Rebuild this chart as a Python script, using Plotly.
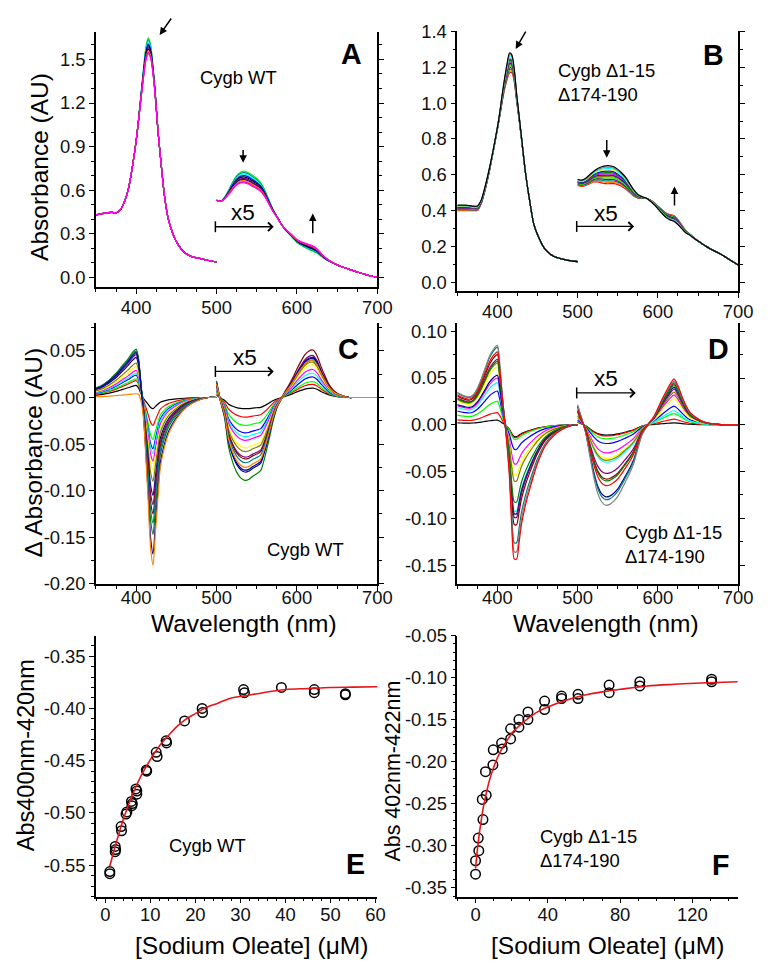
import plotly.graph_objects as go

# ---------------- DATA ----------------
WL_S = [350, 355, 360, 365, 370, 375, 380, 385, 390, 395, 400, 403, 406, 409, 412,
        415, 418, 421, 424, 427, 430, 435, 440, 445, 450, 460, 470, 480, 490, 500]
WL_V = [500, 505, 510, 515, 520, 525, 530, 535, 540, 545, 550, 555, 560, 565, 570,
        575, 580, 585, 590, 595, 600, 605, 610, 615, 620, 625, 630, 635, 640, 645,
        650, 655, 660, 665, 670, 675, 680, 685, 690, 695, 700]

# Panel A: first spectrum and total change (last - first)
A_base_S = [0.430, 0.435, 0.440, 0.445, 0.447, 0.443, 0.462, 0.515, 0.600, 0.750, 0.940, 1.090, 1.260, 1.430, 1.580,
            1.650, 1.600, 1.450, 1.250, 1.020, 0.840, 0.570, 0.400, 0.310, 0.245, 0.170, 0.140, 0.128, 0.115, 0.105]
A_delta_S = [0, 0, 0, 0, 0, 0, 0, 0, 0, 0, 0, -0.01, -0.03, -0.06, -0.09,
             -0.11, -0.09, -0.05, -0.02, -0.005, 0, 0, 0, 0, 0, 0, 0, 0, 0, 0]
A_base_V = [0.530, 0.522, 0.550, 0.600, 0.655, 0.700, 0.725, 0.730, 0.720, 0.700, 0.680, 0.650, 0.600, 0.535, 0.470,
            0.420, 0.370, 0.330, 0.300, 0.270, 0.240, 0.220, 0.205, 0.190, 0.180, 0.165, 0.145, 0.125, 0.110, 0.097,
            0.085, 0.074, 0.064, 0.054, 0.045, 0.036, 0.027, 0.019, 0.011, 0.005, 0.000]
A_delta_V = [0, 0, -0.01, -0.03, -0.05, -0.065, -0.075, -0.08, -0.08, -0.075, -0.07, -0.06, -0.045, -0.03, -0.015,
             -0.005, 0, 0.005, 0.01, 0.015, 0.02, 0.025, 0.03, 0.035, 0.035, 0.03, 0.02, 0.012, 0.006, 0.002,
             0, 0, 0, 0, 0, 0, 0, 0, 0, 0, 0]
A_frac = [0, 0.12, 0.25, 0.38, 0.5, 0.62, 0.72, 0.82, 0.92, 1.0]
A_colors = ['#00FF00', '#008080', '#00FFFF', '#0000FF', '#000000', '#800080', '#000080', '#FF8000', '#FF0080', '#FF00FF']

# Panel B
B_base_S = [0.430, 0.430, 0.430, 0.428, 0.425, 0.425, 0.460, 0.540, 0.635, 0.745, 0.865, 0.950, 1.050, 1.140, 1.220,
            1.280, 1.270, 1.190, 1.050, 0.930, 0.810, 0.610, 0.460, 0.330, 0.265, 0.180, 0.145, 0.130, 0.120, 0.115]
B_delta_S = [-0.03, -0.03, -0.03, -0.028, -0.025, -0.025, -0.02, -0.02, -0.015, -0.01, -0.01, -0.02, -0.04, -0.06, -0.09,
             -0.11, -0.10, -0.07, -0.04, -0.02, -0.01, 0, 0, 0, 0, 0, 0, 0, 0, 0]
B_base_V = [0.575, 0.570, 0.580, 0.600, 0.620, 0.635, 0.645, 0.650, 0.650, 0.645, 0.630, 0.610, 0.585, 0.550, 0.515,
            0.490, 0.478, 0.470, 0.455, 0.435, 0.410, 0.385, 0.362, 0.348, 0.340, 0.322, 0.298, 0.275, 0.262, 0.245,
            0.230, 0.215, 0.200, 0.187, 0.175, 0.164, 0.152, 0.138, 0.124, 0.110, 0.096]
B_delta_V = [-0.035, -0.035, -0.040, -0.050, -0.060, -0.075, -0.090, -0.100, -0.100, -0.095, -0.085, -0.075, -0.065, -0.050, -0.035,
             -0.020, -0.010, 0, 0.005, 0.010, 0.015, 0.020, 0.025, 0.030, 0.032, 0.028, 0.020, 0.012, 0.006, 0.003,
             0, 0, 0, 0, 0, 0, 0, 0, 0, 0, 0]
B_frac = [0, 0.08, 0.15, 0.22, 0.3, 0.38, 0.45, 0.52, 0.6, 0.68, 0.76, 0.84, 0.92, 1.0]
B_colors = ['#000000', '#808080', '#00FFFF', '#FFFF00', '#0000FF', '#008000', '#FF00FF', '#000080', '#808000',
            '#00FF00', '#800080', '#008080', '#FF8000', '#FF0000']

# Panel C: difference spectra, band profiles and per-spectrum amplitudes
C_peak_S = [0.20, 0.23, 0.28, 0.34, 0.42, 0.50, 0.60, 0.70, 0.80, 0.92, 1.00, 0.80, 0.35, 0.05, 0,
            0, 0, 0, 0, 0, 0, 0, 0, 0, 0, 0, 0, 0, 0, 0]
C_trough_S = [0, 0, 0, 0, 0, 0, 0, 0, 0, 0, 0, 0, -0.03, -0.12, -0.35,
              -0.62, -0.90, -1.00, -0.80, -0.60, -0.42, -0.30, -0.22, -0.17, -0.13, -0.07, -0.035, -0.012, 0, 0]
C_trough_V = [0.20, -0.05, -0.25, -0.60, -0.78, -0.90, -0.97, -1.00, -0.99, -0.95, -0.92, -0.88, -0.72, -0.52, -0.30,
              -0.13, -0.03, 0, 0, 0, 0, 0, 0, 0, 0, 0, 0, 0, 0, 0,
              0, 0, 0, 0, 0, 0, 0, 0, 0, 0, 0]
C_peak_V = [0, 0, 0, 0, 0, 0, 0, 0, 0, 0, 0, 0, 0, 0, 0,
            0, 0, 0.12, 0.26, 0.42, 0.60, 0.76, 0.90, 0.98, 1.00, 0.88, 0.65, 0.45, 0.27, 0.16,
            0.09, 0.05, 0.02, 0, 0, 0, 0, 0, 0, 0, 0]
C_colors = ['#000000', '#FF0000', '#00FF00', '#0000FF', '#00FFFF', '#FF00FF', '#FFFF00', '#808000',
            '#000080', '#800080', '#800000', '#008000', '#008080', '#0000A0', '#FF8000']
C_p = [0.013, 0.018, 0.020, 0.024, 0.026, 0.029, 0.033, 0.037, 0.043, 0.046, 0.049, 0.052, 0.050, 0.048, 0.004]
C_t = [0.012, 0.030, 0.045, 0.055, 0.060, 0.068, 0.078, 0.090, 0.105, 0.115, 0.125, 0.147, 0.135, 0.168, 0.180]
C_v = [0.012, 0.021, 0.030, 0.038, 0.042, 0.046, 0.054, 0.058, 0.078, 0.064, 0.066, 0.089, 0.070, 0.080, 0.075]
C_q = [0.010, 0.014, 0.017, 0.022, 0.026, 0.030, 0.035, 0.038, 0.042, 0.045, 0.051, 0.040, 0.040, 0.043, 0.040]

# Panel D
D_peak_S = [0.41, 0.38, 0.36, 0.35, 0.38, 0.46, 0.58, 0.72, 0.86, 0.95, 1.00, 0.75, 0.38, 0.10, 0,
            0, 0, 0, 0, 0, 0, 0, 0, 0, 0, 0, 0, 0, 0, 0]
D_trough_S = [0, 0, 0, 0, 0, 0, 0, 0, 0, 0, 0, 0, 0, -0.02, -0.15,
              -0.38, -0.75, -0.97, -0.97, -0.85, -0.72, -0.58, -0.47, -0.37, -0.28, -0.15, -0.08, -0.035, -0.01, 0]
D_trough_V = [0.25, 0.08, -0.10, -0.38, -0.65, -0.85, -0.96, -1.00, -0.99, -0.95, -0.89, -0.80, -0.70, -0.60, -0.48,
              -0.30, -0.13, -0.04, 0, 0, 0, 0, 0, 0, 0, 0, 0, 0, 0, 0,
              0, 0, 0, 0, 0, 0, 0, 0, 0, 0, 0]
D_peak_V = [0, 0, 0, 0, 0, 0, 0, 0, 0, 0, 0, 0, 0, 0, 0,
            0, 0, 0, 0.06, 0.18, 0.36, 0.55, 0.72, 0.88, 1.00, 0.85, 0.62, 0.42, 0.27, 0.19,
            0.13, 0.08, 0.05, 0.03, 0.02, 0.01, 0, 0, 0, 0, 0]
D_colors = ['#000000', '#FF0000', '#00FF00', '#0000FF', '#00FFFF', '#FF00FF', '#FFFF00', '#808000',
            '#000080', '#800080', '#800000', '#008000', '#008080', '#808080', '#FF0000']
D_p = [0.005, 0.013, 0.025, 0.036, 0.045, 0.050, 0.062, 0.066, 0.053, 0.070, 0.075, 0.068, 0.083, 0.085, 0.078]
D_t = [0.013, 0.014, 0.016, 0.027, 0.095, 0.043, 0.055, 0.062, 0.098, 0.102, 0.110, 0.085, 0.130, 0.140, 0.148]
D_v = [0.011, 0.012, 0.015, 0.020, 0.040, 0.030, 0.036, 0.038, 0.077, 0.052, 0.058, 0.060, 0.080, 0.086, 0.065]
D_q = [0.002, 0.006, 0.012, 0.020, 0.015, 0.032, 0.028, 0.035, 0.040, 0.038, 0.044, 0.042, 0.046, 0.047, 0.049]

# Panel E: titration, Cygb WT
E_x = [1.0, 1.0, 2.2, 2.2, 2.3, 3.5, 3.6, 4.6, 4.8, 5.8, 5.9, 6.0, 6.8, 7.0, 7.0, 9.1, 9.2,
       11.3, 11.5, 13.5, 13.6, 17.6, 21.5, 21.6, 30.7, 30.9, 39.1, 46.4, 46.4, 53.3, 53.3]
E_y = [-0.556, -0.558, -0.532, -0.537, -0.535, -0.513, -0.517, -0.501, -0.499, -0.489, -0.493, -0.491,
       -0.477, -0.482, -0.479, -0.459, -0.460, -0.442, -0.446, -0.431, -0.433, -0.412, -0.400, -0.404,
       -0.382, -0.385, -0.380, -0.382, -0.385, -0.386, -0.387]
E_fit_x = [1, 2, 3, 4, 5, 6, 7, 8, 10, 12, 14, 16, 18, 20, 22, 25, 28, 31, 35, 40, 45, 50, 55, 61]
E_fit_y = [-0.551, -0.535, -0.520, -0.506, -0.494, -0.483, -0.473, -0.464, -0.449, -0.436, -0.426, -0.417,
           -0.410, -0.405, -0.400, -0.395, -0.390, -0.388, -0.385, -0.382, -0.381, -0.380, -0.3797, -0.3793]

# Panel F: titration, Cygb D1-15 D174-190
F_x = [0, 0, 1.8, 1.5, 4.1, 3.7, 5.9, 5.5, 9.6, 9.8, 14.8, 14.4, 19.4, 19.4, 24.0, 24.0, 29.0, 29.0,
       38.2, 38.2, 47.6, 47.6, 56.7, 56.7, 73.9, 73.9, 90.9, 90.9, 130.6, 130.6]
F_y = [-0.334, -0.318, -0.306, -0.291, -0.269, -0.245, -0.240, -0.212, -0.204, -0.186, -0.185, -0.178,
       -0.173, -0.161, -0.159, -0.150, -0.150, -0.141, -0.138, -0.128, -0.125, -0.122, -0.120, -0.125,
       -0.109, -0.118, -0.105, -0.110, -0.102, -0.105]
F_fit_x = [0, 1, 2, 3, 4, 5, 6, 8, 10, 12, 15, 18, 21, 25, 30, 35, 40, 50, 60, 70, 80, 95, 110, 125, 145]
F_fit_y = [-0.327, -0.305, -0.287, -0.272, -0.258, -0.247, -0.237, -0.220, -0.207, -0.196, -0.183, -0.173,
           -0.164, -0.156, -0.147, -0.140, -0.135, -0.127, -0.121, -0.117, -0.114, -0.110, -0.108, -0.1065, -0.105]

# tick labels
WL_ticks = [400, 500, 600, 700]
A_yticks = [0.0, 0.3, 0.6, 0.9, 1.2, 1.5]
B_yticks = [0.0, 0.2, 0.4, 0.6, 0.8, 1.0, 1.2, 1.4]
C_yticks = [-0.20, -0.15, -0.10, -0.05, 0.00, 0.05]
D_yticks = [-0.15, -0.10, -0.05, 0.00, 0.05, 0.10]
E_xticks = [0, 10, 20, 30, 40, 50, 60]
E_yticks = [-0.55, -0.50, -0.45, -0.40, -0.35]
F_xticks = [0, 40, 80, 120]
F_yticks = [-0.35, -0.30, -0.25, -0.20, -0.15, -0.10, -0.05]

# ---------------- LAYOUT HELPERS ----------------
W, H = 772, 975
FONT = "Liberation Sans, Arial, sans-serif"
# the captured page comes out slightly scaled/offset; positions below are
# given in target-picture pixels and converted back here
SX, OX = 0.9797, 7.8
SY, OY = 0.983, 16.6


def PX(x):
    return (x - OX) / SX / W


def PY(y):
    return 1 - (y - OY) / SY / H


def FS(s):
    return round(s / SX, 1)


def lab(v, fmt):
    return (fmt % v).replace('\u2212', '-')


def xax(dom, rng, ticks, fmt, minor, anchor, standoff=0):
    return dict(domain=dom, range=rng, tickmode='array', tickvals=ticks,
                ticktext=[lab(t, fmt) for t in ticks], anchor=anchor,
                showline=True, linecolor='black', linewidth=1.5, mirror=False,
                ticks='outside', ticklen=5, tickwidth=1.3, tickcolor='black',
                showgrid=False, zeroline=False, ticklabelstandoff=standoff,
                tickfont=dict(size=FS(18), family=FONT, color='#111'),
                minor=dict(dtick=minor, ticks='outside', ticklen=3, tickwidth=1, tickcolor='black', showgrid=False))


def yax(dom, rng, ticks, fmt, minor, anchor, mirror):
    d = xax(dom, rng, ticks, fmt, minor, anchor)
    d['mirror'] = 'ticks' if mirror else False
    return d


domL = [PX(95.7), PX(376.8)]
domR = [PX(456.7), PX(737.3)]

fig = go.Figure()

LW = 1.2


def add_line(x, y, color, xa, ya, width=LW):
    fig.add_trace(go.Scatter(x=x, y=y, mode='lines', xaxis=xa, yaxis=ya,
                             line=dict(color=color, width=width, shape='spline', smoothing=0.7),
                             showlegend=False, hoverinfo='skip'))


# Panel A
for f, c in zip(A_frac, A_colors):
    add_line(WL_S, [b + f * d for b, d in zip(A_base_S, A_delta_S)], c, 'x', 'y')
    add_line(WL_V, [b + f * d for b, d in zip(A_base_V, A_delta_V)], c, 'x', 'y')
# Panel B (first spectrum drawn last)
for f, c in reversed(list(zip(B_frac, B_colors))):
    add_line(WL_S, [b + f * d for b, d in zip(B_base_S, B_delta_S)], c, 'x2', 'y2')
    add_line(WL_V, [b + f * d for b, d in zip(B_base_V, B_delta_V)], c, 'x2', 'y2')
# Panel C
for c, p, t, v, q in zip(C_colors, C_p, C_t, C_v, C_q):
    add_line(WL_S, [p * a + t * b for a, b in zip(C_peak_S, C_trough_S)], c, 'x3', 'y3')
    add_line(WL_V, [v * a + q * b for a, b in zip(C_trough_V, C_peak_V)], c, 'x3', 'y3')
# Panel D
for c, p, t, v, q in zip(D_colors, D_p, D_t, D_v, D_q):
    add_line(WL_S, [p * a + t * b for a, b in zip(D_peak_S, D_trough_S)], c, 'x4', 'y4')
    add_line(WL_V, [v * a + q * b for a, b in zip(D_trough_V, D_peak_V)], c, 'x4', 'y4')

# Panel E
fig.add_trace(go.Scatter(x=E_x, y=E_y, mode='markers', xaxis='x5', yaxis='y5',
                         marker=dict(symbol='circle-open', size=9.5, color='black', line=dict(width=1.5)),
                         showlegend=False, hoverinfo='skip'))
fig.add_trace(go.Scatter(x=E_fit_x, y=E_fit_y, mode='lines', xaxis='x5', yaxis='y5',
                         line=dict(color='#E8141B', width=1.6, shape='spline'), showlegend=False, hoverinfo='skip'))
# Panel F
fig.add_trace(go.Scatter(x=F_x, y=F_y, mode='markers', xaxis='x6', yaxis='y6',
                         marker=dict(symbol='circle-open', size=9.5, color='black', line=dict(width=1.5)),
                         showlegend=False, hoverinfo='skip'))
fig.add_trace(go.Scatter(x=F_fit_x, y=F_fit_y, mode='lines', xaxis='x6', yaxis='y6',
                         line=dict(color='#E8141B', width=1.6, shape='spline'), showlegend=False, hoverinfo='skip'))

layout = dict(
    width=W, height=H, margin=dict(l=0, r=0, t=0, b=0),
    paper_bgcolor='white', plot_bgcolor='white', showlegend=False,
    font=dict(family=FONT, color='black'),
    xaxis=xax(domL, [350, 700], WL_ticks, '%d', 25, 'y', -2),
    yaxis=yax([PY(285.7), PY(30)], [-0.0665, 1.687], A_yticks, '%.1f', 0.1, 'x', True),
    xaxis2=xax(domR, [350, 700], WL_ticks, '%d', 25, 'y2', -2),
    yaxis2=yax([PY(290), PY(28.3)], [-0.05, 1.405], B_yticks, '%.1f', 0.1, 'x2', True),
    xaxis3=xax(domL, [350, 700], WL_ticks, '%d', 25, 'y3', -9),
    yaxis3=yax([PY(584), PY(321.7)], [-0.20, 0.0803], C_yticks, '%.2f', 0.025, 'x3', True),
    xaxis4=xax(domR, [350, 700], WL_ticks, '%d', 25, 'y4', -9),
    yaxis4=yax([PY(584), PY(322.3)], [-0.170, 0.1085], D_yticks, '%.2f', 0.025, 'x4', True),
    xaxis5=xax(domL, [-2.07, 60.4], E_xticks, '%d', 2, 'y5', -4),
    yaxis5=yax([PY(898.3), PY(636.7)], [-0.580, -0.331], E_yticks, '%.2f', 0.01, 'x5', False),
    xaxis6=xax(domR, [-10.1, 145.3], F_xticks, '%d', 10, 'y6', -4),
    yaxis6=yax([PY(898.3), PY(636)], [-0.3607, -0.05], F_yticks, '%.2f', 0.01, 'x6', False),
)
fig.update_layout(**layout)

ann = []


def text(x, y, s, size, bold=False, angle=0, xanchor='center', align='center'):
    ann.append(dict(x=PX(x), y=PY(y), xref='paper', yref='paper', text=('<b>%s</b>' % s) if bold else s,
                    showarrow=False, font=dict(size=FS(size), family=FONT, color='black'),
                    textangle=angle, xanchor=xanchor, yanchor='middle', align=align))


def arrow(hx, hy, tx, ty, head=2, width=1.5, size=1.0):
    ann.append(dict(x=PX(hx), y=PY(hy), xref='paper', yref='paper', ax=(tx - hx) / SX, ay=(ty - hy) / SY,
                    axref='pixel', ayref='pixel', showarrow=True, arrowhead=head, arrowsize=size,
                    arrowwidth=width, arrowcolor='black', text=''))


# axis titles
text(39, 165, 'Absorbance (AU)', 24, angle=-90)
text(33, 452, '\u0394 Absorbance (AU)', 24, angle=-90)
text(244, 624, 'Wavelength (nm)', 24)
text(605, 624, 'Wavelength (nm)', 24)
text(26, 756, 'Abs400nm-420nm', 23, angle=-90)
text(392, 772, 'Abs 402nm-422nm', 21, angle=-90)
text(251, 947, '[Sodium Oleate] (\u03bcM)', 24)
text(607, 947, '[Sodium Oleate] (\u03bcM)', 24)

# panel letters
for (x, y, s) in [(351, 52, 'A'), (713, 53, 'B'), (348, 348, 'C'), (718, 348, 'D'), (355, 866, 'E'), (720, 867, 'F')]:
    text(x, y, s, 28, bold=True)

# sample labels
text(238, 75, 'Cygb WT', 18)
text(555, 80, 'Cygb \u03941-15<br>\u0394174-190', 18, xanchor='left', align='left')
text(305, 550, 'Cygb WT', 18)
text(622, 545, 'Cygb \u03941-15<br>\u0394174-190', 18, xanchor='left', align='left')
text(207, 847, 'Cygb WT', 18)
text(537, 850, 'Cygb \u03941-15<br>\u0394174-190', 18, xanchor='left', align='left')

# x5 labels and bars
for (tx, ty, x0, x1, yb) in [(242.7, 211, 215, 273.3, 225.3), (605, 212, 576, 633.3, 225),
                             (245, 357, 215, 273.3, 370.7), (605, 378, 576, 635, 392.3)]:
    text(tx, ty, 'x5', 22)
    arrow(x1, yb, x0, yb, head=4, width=1.3, size=1.3)
    fig.add_shape(type='line', xref='paper', yref='paper', x0=PX(x0), x1=PX(x0),
                  y0=PY(yb - 5.5), y1=PY(yb + 5.5), line=dict(color='black', width=1.5))

# trend arrows
arrow(159.3, 32.7, 171.7, 15)
arrow(242.7, 161, 242.7, 147)
arrow(312.3, 212, 312.3, 233)
arrow(515, 46.7, 525.7, 28.3)
arrow(606, 156, 606, 137)
arrow(673.7, 185, 673.7, 205)

fig.update_layout(annotations=ann)
fig.write_html('out.html')
